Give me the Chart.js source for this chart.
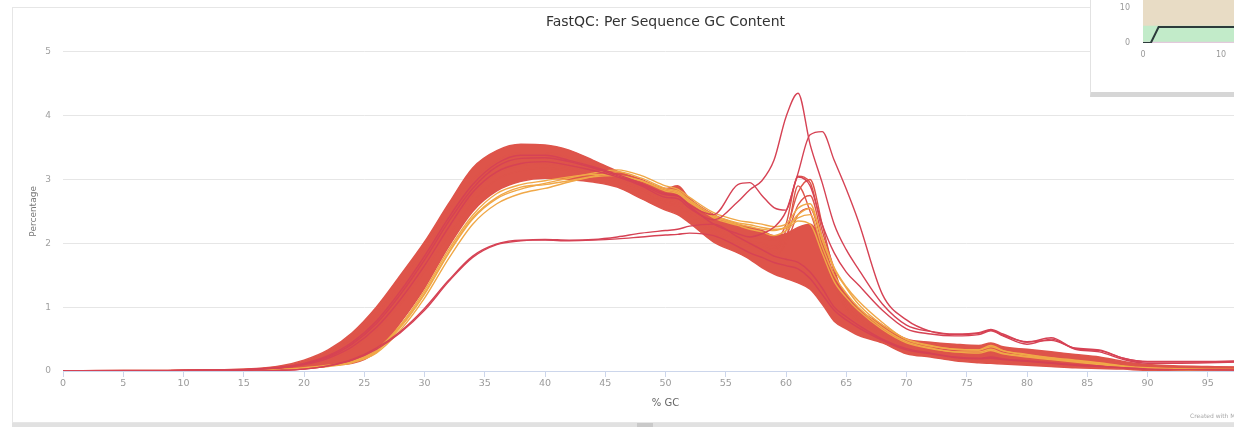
<!DOCTYPE html>
<html>
<head>
<meta charset="utf-8">
<title>FastQC: Per Sequence GC Content</title>
<script src="https://cdn.jsdelivr.net/npm/chart.js@4.4.1/dist/chart.umd.min.js"></script>
<style>
  html, body {
    margin: 0;
    padding: 0;
    width: 1234px;
    height: 427px;
    overflow: hidden;
    background: #fff;
    font-family: "DejaVu Sans", sans-serif;
  }
  .plot-panel {
    position: absolute;
    left: 12px;
    top: 7px;
    width: 1330px;
    height: 414px;
    border: 1px solid #e6e6e6;
    background: #fff;
  }
  .plot-panel canvas {
    position: absolute;
    left: 0;
    top: 0;
  }
  .resize-bar {
    position: absolute;
    left: 12px;
    top: 423px;
    width: 1332px;
    height: 4px;
    background: #e1e1e1;
  }
  .resize-bar .handle {
    position: absolute;
    left: 625px;
    top: 0;
    width: 16px;
    height: 4px;
    background: #c9c9c9;
  }
  .credits {
    position: absolute;
    left: 1190px;
    top: 412px;
    font-size: 6px;
    color: #a8a8a8;
    white-space: nowrap;
  }
  .mini-panel {
    position: absolute;
    left: 1090px;
    top: -45px;
    width: 330px;
    height: 136px;
    border: 1px solid #e2e2e2;
    border-bottom: 5px solid #d6d6d6;
    background: #fff;
  }
  .mini-panel canvas {
    position: absolute;
    left: 0;
    top: 0;
  }
</style>
</head>
<body>

<div class="plot-panel">
  <canvas id="gcChart" width="1300" height="414"></canvas>
</div>
<div class="credits">Created with MultiQC</div>
<div class="resize-bar"><div class="handle"></div></div>

<div class="mini-panel">
  <canvas id="miniChart" width="330" height="136"></canvas>
</div>

<script>
// % GC positions shared by every sample line
const gcPercent = [0, 5, 10, 15, 18, 20, 22, 24, 26, 28, 30, 32, 34, 36, 38, 40, 42, 44, 46, 48,
  50, 51, 52, 54, 56, 57, 58, 59, 60, 61, 62, 63, 64, 65, 66, 68, 70, 72, 74, 76,
  77, 78, 80, 82, 84, 86, 88, 90, 95, 100];

// edges of the dense block of failing samples
const bandUpper = [0, 0.01, 0.01, 0.03, 0.08, 0.17, 0.33, 0.6, 1.0, 1.5, 2.02, 2.62, 3.18, 3.45, 3.55, 3.54, 3.46, 3.3, 3.13, 3.0,
  2.86, 2.9, 2.7, 2.45, 2.3, 2.25, 2.2, 2.12, 2.15, 2.25, 2.3, 2.0, 1.5, 1.2, 0.98, 0.72, 0.5, 0.45, 0.42, 0.4,
  0.44, 0.38, 0.34, 0.3, 0.26, 0.22, 0.15, 0.1, 0.07, 0.06];
const bandLower = [0, 0, 0, 0.01, 0.02, 0.05, 0.09, 0.12, 0.3, 0.76, 1.3, 1.95, 2.5, 2.82, 2.97, 3.02, 3.0, 2.96, 2.88, 2.7,
  2.52, 2.45, 2.32, 2.02, 1.85, 1.75, 1.62, 1.52, 1.45, 1.38, 1.28, 1.05, 0.78, 0.66, 0.56, 0.44, 0.27, 0.22, 0.16, 0.13,
  0.12, 0.11, 0.09, 0.07, 0.05, 0.04, 0.03, 0.01, 0.01, 0.01];

// failing samples with the sharp peak near 61-62 % GC
const failSpike1 = [0, 0, 0.01, 0.02, 0.06, 0.12, 0.25, 0.48, 0.82, 1.3, 1.85, 2.42, 2.9, 3.2, 3.3, 3.3, 3.24, 3.14, 3.02, 2.88,
  2.7, 2.68, 2.52, 2.25, 2.12, 2.1, 2.08, 2.05, 2.3, 3.05, 2.95, 2.2, 1.6, 1.05, 0.82, 0.6, 0.42, 0.35, 0.3, 0.27,
  0.3, 0.25, 0.2, 0.17, 0.13, 0.1, 0.06, 0.03, 0.02, 0.02];
const failSpike2 = [0, 0, 0.01, 0.02, 0.05, 0.1, 0.21, 0.4, 0.72, 1.15, 1.68, 2.24, 2.76, 3.1, 3.22, 3.24, 3.18, 3.08, 2.98, 2.84,
  2.66, 2.62, 2.48, 2.2, 2.05, 2.02, 2.0, 1.95, 2.2, 2.8, 3.0, 2.3, 1.55, 1.1, 0.85, 0.62, 0.44, 0.36, 0.31, 0.29,
  0.33, 0.27, 0.22, 0.18, 0.14, 0.11, 0.07, 0.04, 0.02, 0.02];
const failSpike3 = [0, 0, 0.01, 0.02, 0.04, 0.09, 0.18, 0.35, 0.64, 1.05, 1.56, 2.12, 2.64, 3.0, 3.14, 3.18, 3.14, 3.06, 2.96, 2.8,
  2.62, 2.58, 2.44, 2.15, 2.0, 1.96, 1.95, 1.9, 2.1, 2.6, 2.75, 2.1, 1.45, 1.0, 0.8, 0.58, 0.4, 0.33, 0.28, 0.25,
  0.28, 0.24, 0.19, 0.15, 0.12, 0.09, 0.05, 0.03, 0.02, 0.01];
const failSpike4 = [0, 0, 0.01, 0.02, 0.05, 0.11, 0.22, 0.42, 0.76, 1.2, 1.74, 2.3, 2.8, 3.12, 3.26, 3.28, 3.22, 3.12, 3.0, 2.85,
  2.68, 2.64, 2.5, 2.22, 2.06, 2.0, 1.9, 1.85, 2.0, 2.45, 2.55, 2.0, 1.4, 0.95, 0.78, 0.56, 0.38, 0.32, 0.27, 0.24,
  0.26, 0.22, 0.18, 0.14, 0.11, 0.08, 0.05, 0.03, 0.02, 0.01];
const failSpike5 = [0, 0, 0.01, 0.02, 0.07, 0.14, 0.28, 0.52, 0.88, 1.38, 1.95, 2.52, 3.0, 3.3, 3.42, 3.42, 3.35, 3.22, 3.08, 2.92,
  2.74, 2.72, 2.56, 2.28, 2.1, 2.04, 1.85, 1.8, 2.05, 2.9, 2.5, 1.9, 1.35, 1.0, 0.8, 0.58, 0.4, 0.34, 0.29, 0.26,
  0.29, 0.24, 0.19, 0.16, 0.12, 0.09, 0.05, 0.03, 0.02, 0.01];

// warning samples
const warn1 = [0, 0, 0, 0.01, 0.02, 0.04, 0.08, 0.14, 0.3, 0.68, 1.2, 1.84, 2.38, 2.7, 2.85, 2.94, 3.02, 3.1, 3.15, 3.06,
  2.9, 2.85, 2.72, 2.48, 2.36, 2.33, 2.3, 2.26, 2.3, 2.55, 2.62, 2.05, 1.6, 1.3, 1.05, 0.72, 0.5, 0.4, 0.34, 0.33,
  0.38, 0.32, 0.26, 0.21, 0.17, 0.13, 0.08, 0.05, 0.03, 0.02];
const warn2 = [0, 0, 0, 0.01, 0.02, 0.04, 0.07, 0.13, 0.28, 0.64, 1.14, 1.76, 2.3, 2.62, 2.78, 2.86, 2.96, 3.04, 3.06, 2.98,
  2.82, 2.78, 2.64, 2.42, 2.3, 2.26, 2.22, 2.2, 2.26, 2.4, 2.45, 1.95, 1.5, 1.22, 1.0, 0.68, 0.46, 0.36, 0.3, 0.3,
  0.34, 0.28, 0.23, 0.19, 0.15, 0.11, 0.07, 0.04, 0.02, 0.02];
const warn3 = [0, 0, 0, 0.01, 0.02, 0.05, 0.09, 0.15, 0.33, 0.72, 1.26, 1.9, 2.44, 2.78, 2.92, 2.98, 3.04, 3.08, 3.06, 2.98,
  2.84, 2.8, 2.66, 2.4, 2.28, 2.22, 2.18, 2.12, 2.2, 2.35, 2.3, 1.85, 1.4, 1.15, 0.95, 0.65, 0.44, 0.35, 0.3, 0.28,
  0.32, 0.27, 0.22, 0.18, 0.14, 0.1, 0.06, 0.04, 0.02, 0.01];
const warn4 = [0, 0, 0, 0.01, 0.02, 0.04, 0.08, 0.14, 0.31, 0.7, 1.22, 1.86, 2.4, 2.72, 2.88, 2.92, 2.98, 3.05, 3.12, 3.02,
  2.86, 2.82, 2.68, 2.44, 2.32, 2.29, 2.25, 2.22, 2.24, 2.45, 2.55, 2.1, 1.62, 1.32, 1.1, 0.76, 0.49, 0.39, 0.34, 0.33,
  0.4, 0.32, 0.25, 0.2, 0.16, 0.12, 0.07, 0.04, 0.02, 0.02];

// two samples shifted to higher GC with a flat top
const lowPeak1 = [0, 0, 0, 0, 0.01, 0.03, 0.08, 0.17, 0.34, 0.6, 0.95, 1.4, 1.78, 1.98, 2.04, 2.06, 2.05, 2.06, 2.1, 2.16,
  2.2, 2.22, 2.27, 2.3, 2.1, 2.0, 1.9, 1.8, 1.75, 1.7, 1.55, 1.3, 1.0, 0.85, 0.72, 0.5, 0.35, 0.28, 0.22, 0.2,
  0.22, 0.19, 0.16, 0.13, 0.1, 0.08, 0.05, 0.03, 0.02, 0.01];
const lowPeak2 = [0, 0, 0, 0, 0.01, 0.03, 0.08, 0.18, 0.36, 0.62, 0.98, 1.42, 1.8, 1.99, 2.05, 2.05, 2.04, 2.05, 2.07, 2.1,
  2.13, 2.14, 2.16, 2.12, 1.95, 1.85, 1.78, 1.7, 1.65, 1.6, 1.45, 1.2, 0.95, 0.8, 0.68, 0.48, 0.33, 0.27, 0.21, 0.19,
  0.2, 0.18, 0.15, 0.12, 0.09, 0.07, 0.05, 0.03, 0.02, 0.01];

// contaminated samples with the tall peaks around 60-63 % GC
const outlierA = [0, 0, 0.01, 0.02, 0.05, 0.1, 0.2, 0.38, 0.68, 1.12, 1.65, 2.25, 2.8, 3.12, 3.25, 3.28, 3.22, 3.14, 3.04, 2.9,
  2.72, 2.7, 2.55, 2.37, 2.65, 2.84, 2.98, 3.3, 3.98, 4.35, 3.55, 2.95, 2.3, 1.9, 1.6, 1.05, 0.72, 0.62, 0.58, 0.6,
  0.65, 0.58, 0.45, 0.52, 0.35, 0.32, 0.2, 0.15, 0.15, 0.17];
const outlierB = [0, 0, 0.01, 0.02, 0.06, 0.12, 0.24, 0.45, 0.78, 1.25, 1.8, 2.4, 2.92, 3.25, 3.38, 3.38, 3.3, 3.2, 3.08, 2.94,
  2.78, 2.75, 2.6, 2.45, 2.92, 2.95, 2.75, 2.56, 2.52, 3.04, 2.9, 2.3, 1.85, 1.55, 1.35, 0.95, 0.66, 0.58, 0.55, 0.57,
  0.63, 0.55, 0.42, 0.5, 0.34, 0.3, 0.18, 0.12, 0.13, 0.15];
const outlierC = [0, 0, 0.01, 0.02, 0.05, 0.11, 0.22, 0.42, 0.74, 1.2, 1.74, 2.34, 2.86, 3.2, 3.33, 3.34, 3.28, 3.18, 3.06, 2.92,
  2.76, 2.74, 2.58, 2.3, 2.15, 2.1, 2.15, 2.25, 2.5, 3.1, 3.7, 3.75, 3.3, 2.85, 2.35, 1.2, 0.8, 0.62, 0.57, 0.59,
  0.64, 0.56, 0.46, 0.48, 0.36, 0.33, 0.2, 0.14, 0.14, 0.16];

const yTicks = [0, 1, 2, 3, 4, 5];

// small status chart in the corner
const miniCycles = [0, 1, 2, 5, 10, 15, 20, 25, 30];
const miniValues = [0, 0, 4.6, 4.6, 4.6, 4.6, 4.6, 4.6, 4.6];

const FAIL = 'rgb(222, 84, 74)';
const WARN = 'rgb(240, 168, 72)';
const ODD = 'rgb(214, 66, 84)';

Chart.defaults.font.family = '"DejaVu Sans", sans-serif';
Chart.defaults.animation = false;

const toPoints = values => values.map((y, i) => ({ x: gcPercent[i], y: y }));

function sampleLine(label, values, color, width, order, extra) {
  return Object.assign({
    label: label,
    data: toPoints(values),
    borderColor: color,
    backgroundColor: color,
    borderWidth: width,
    pointRadius: 0,
    cubicInterpolationMode: 'monotone',
    fill: false,
    order: order
  }, extra || {});
}

const datasets = [
  sampleLine('fail (upper)', bandUpper, FAIL, 1.5, 6, { fill: '+1' }),
  sampleLine('fail (lower)', bandLower, FAIL, 1.5, 6),
  sampleLine('fail spike 1', failSpike1, FAIL, 1.4, 5),
  sampleLine('fail spike 2', failSpike2, FAIL, 1.4, 5),
  sampleLine('fail spike 3', failSpike3, FAIL, 1.4, 5),
  sampleLine('fail spike 4', failSpike4, FAIL, 1.4, 5),
  sampleLine('fail spike 5', failSpike5, FAIL, 1.4, 5),
  sampleLine('warn 1', warn1, WARN, 1.4, 4),
  sampleLine('warn 2', warn2, WARN, 1.4, 4),
  sampleLine('warn 3', warn3, WARN, 1.4, 4),
  sampleLine('warn 4', warn4, WARN, 1.4, 4),
  sampleLine('low peak 1', lowPeak1, ODD, 1.4, 3),
  sampleLine('low peak 2', lowPeak2, ODD, 1.4, 3),
  sampleLine('outlier A', outlierA, ODD, 1.4, 2),
  sampleLine('outlier B', outlierB, ODD, 1.4, 2),
  sampleLine('outlier C', outlierC, ODD, 1.4, 2)
];

new Chart(document.getElementById('gcChart'), {
  type: 'line',
  data: { datasets: datasets },
  options: {
    responsive: false,
    layout: { padding: { left: 0, right: 45, top: 0, bottom: 0 } },
    plugins: {
      legend: { display: false },
      tooltip: { enabled: false },
      title: {
        display: true,
        text: 'FastQC: Per Sequence GC Content',
        fullSize: false,
        color: '#333',
        font: { size: 14, weight: 'normal' },
        padding: { top: 6, bottom: 21 }
      }
    },
    scales: {
      x: {
        type: 'linear',
        min: 0,
        max: 100,
        ticks: { stepSize: 5, color: '#9a9a9a', font: { size: 9.5 }, padding: 1, maxRotation: 0 },
        grid: { drawOnChartArea: false, drawTicks: true, tickLength: 6, color: '#ccd6eb' },
        border: { display: true, color: '#ccd6eb' },
        title: {
          display: true,
          text: '% GC',
          color: '#666',
          font: { size: 10 },
          padding: { top: 4, bottom: 13 }
        },
        afterFit: scale => { scale.height = 51; }
      },
      y: {
        min: 0,
        max: 5,
        afterBuildTicks: scale => { scale.ticks = yTicks.map(v => ({ value: v })); },
        ticks: { color: '#a0a0a0', font: { size: 9 }, padding: 12 },
        grid: { color: '#e6e6e6', drawTicks: false },
        border: { display: false },
        title: {
          display: true,
          text: 'Percentage',
          color: '#777',
          font: { size: 9 },
          padding: { top: 15, bottom: 0 }
        },
        afterFit: scale => { scale.width = 50; }
      }
    }
  }
});

// green / beige background zones behind the corner chart
const zoneBands = {
  id: 'zoneBands',
  beforeDatasetsDraw(chart) {
    const { ctx, chartArea, scales } = chart;
    const y = scales.y;
    ctx.save();
    ctx.fillStyle = '#e8dcc5';
    ctx.fillRect(chartArea.left, chartArea.top, chartArea.width, chartArea.height);
    const top = y.getPixelForValue(5);
    ctx.fillStyle = '#c2ebc9';
    ctx.fillRect(chartArea.left, top, chartArea.width, chartArea.bottom - top);
    const pinkTop = y.getPixelForValue(0.35);
    ctx.fillStyle = '#e3c9dc';
    ctx.fillRect(chartArea.left, pinkTop, chartArea.width, chartArea.bottom - pinkTop);
    ctx.restore();
  }
};

new Chart(document.getElementById('miniChart'), {
  type: 'line',
  data: {
    datasets: [{
      data: miniCycles.map((x, i) => ({ x: x, y: miniValues[i] })),
      borderColor: '#2c3b3b',
      borderWidth: 2,
      pointRadius: 0,
      tension: 0,
      fill: false
    }]
  },
  options: {
    responsive: false,
    layout: { padding: { left: 0, right: 44, top: 15, bottom: 0 } },
    plugins: { legend: { display: false }, tooltip: { enabled: false } },
    scales: {
      x: {
        type: 'linear',
        min: 0,
        max: 30,
        ticks: { stepSize: 10, color: '#999', font: { size: 8 }, padding: 7 },
        grid: { display: false, drawTicks: false },
        border: { display: false },
        afterFit: scale => { scale.height = 49; }
      },
      y: {
        min: 0,
        max: 20,
        ticks: { stepSize: 10, color: '#999', font: { size: 8 }, padding: 13 },
        grid: { display: false, drawTicks: false },
        border: { display: false },
        afterFit: scale => { scale.width = 52; }
      }
    }
  },
  plugins: [zoneBands]
});
</script>
</body>
</html>
